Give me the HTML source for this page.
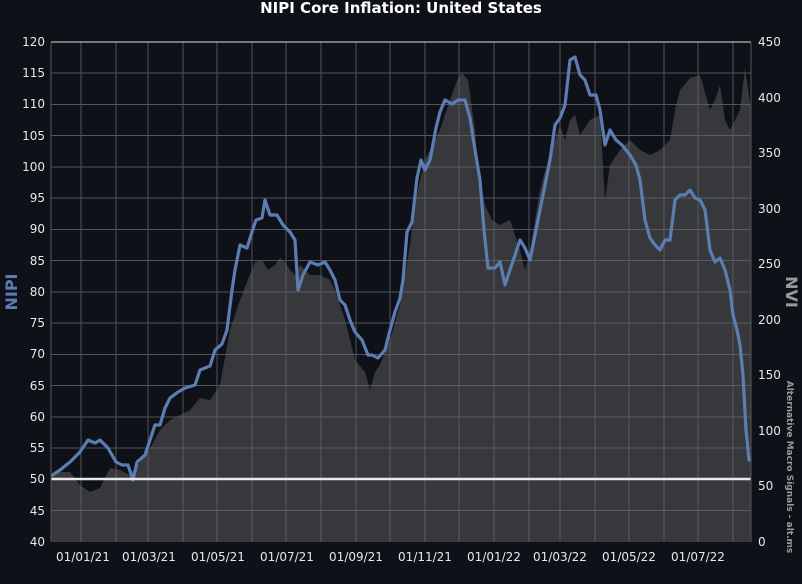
<!DOCTYPE html>
<html><head><meta charset="utf-8"><style>
body{margin:0;background:#0f1119;}
svg{display:block;font-family:"DejaVu Sans","Liberation Sans",sans-serif;}
</style></head><body>
<svg width="802" height="584" viewBox="0 0 802 584">
<rect width="802" height="584" fill="#0f1119"/>
<text x="401" y="13" fill="#fff" font-size="15" font-weight="bold" text-anchor="middle">NIPI Core Inflation: United States</text>
<clipPath id="c"><rect x="51" y="42" width="700" height="500"/></clipPath>
<g clip-path="url(#c)">
<polygon fill="#36383c" points="51,542 51,478 60,472 70,472 80,485 90,492 100,488 110,468 120,470 130,475 140,462 150,448 160,430 170,420 180,415 190,410 200,398 210,400 220,385 230,330 240,300 247,282 255,262 262,260 268,270 275,265 280,258 285,262 290,270 295,275 300,265 305,270 310,275 320,275 330,280 335,290 345,320 355,360 365,372 370,390 375,372 380,365 390,340 400,305 410,245 415,205 420,180 425,160 430,150 440,130 450,100 458,78 462,73 468,80 475,130 478,170 485,205 492,220 500,225 510,220 520,250 525,270 530,250 540,190 548,160 555,140 560,125 565,140 570,120 575,115 580,135 590,120 600,115 605,200 610,165 620,150 630,140 640,150 650,155 660,150 670,140 675,110 680,90 690,78 700,75 710,110 715,100 720,85 725,120 730,130 740,110 745,68 751,110 751,542"/>
<g stroke="#62656b" stroke-width="1" opacity="0.8">
<line x1="51" x2="751" y1="104.5" y2="104.5"/><line x1="51" x2="751" y1="167" y2="167"/><line x1="51" x2="751" y1="229.5" y2="229.5"/><line x1="51" x2="751" y1="292" y2="292"/><line x1="51" x2="751" y1="354.5" y2="354.5"/><line x1="51" x2="751" y1="417" y2="417"/><line x1="51" x2="751" y1="73" y2="73"/><line x1="51" x2="751" y1="135.5" y2="135.5"/><line x1="51" x2="751" y1="198" y2="198"/><line x1="51" x2="751" y1="260.5" y2="260.5"/><line x1="51" x2="751" y1="323" y2="323"/><line x1="51" x2="751" y1="385.5" y2="385.5"/><line x1="51" x2="751" y1="448" y2="448"/><line x1="51" x2="751" y1="510.5" y2="510.5"/>
<line x1="81" x2="81" y1="42" y2="542"/><line x1="116" x2="116" y1="42" y2="542"/><line x1="148" x2="148" y1="42" y2="542"/><line x1="183" x2="183" y1="42" y2="542"/><line x1="217" x2="217" y1="42" y2="542"/><line x1="252" x2="252" y1="42" y2="542"/><line x1="286" x2="286" y1="42" y2="542"/><line x1="321" x2="321" y1="42" y2="542"/><line x1="356" x2="356" y1="42" y2="542"/><line x1="390" x2="390" y1="42" y2="542"/><line x1="425" x2="425" y1="42" y2="542"/><line x1="459" x2="459" y1="42" y2="542"/><line x1="494" x2="494" y1="42" y2="542"/><line x1="529" x2="529" y1="42" y2="542"/><line x1="560" x2="560" y1="42" y2="542"/><line x1="595" x2="595" y1="42" y2="542"/><line x1="629" x2="629" y1="42" y2="542"/><line x1="664" x2="664" y1="42" y2="542"/><line x1="698" x2="698" y1="42" y2="542"/><line x1="733" x2="733" y1="42" y2="542"/>
</g>
<polyline fill="none" stroke="#5b7db1" stroke-width="3.2" stroke-linejoin="round" points="51,476 60,470 70,462 80,452 88,440 95,443 100,440 108,448 116,462 122,465 128,465 133,480 137,462 145,455 150,440 155,425 160,425 165,408 170,398 178,392 185,388 195,385 200,370 210,366 215,350 222,344 227,330 232,290 235,270 240,245 247,248 252,232 256,220 262,218 265,200 270,215 277,215 283,225 290,232 295,240 298,290 303,275 310,262 318,265 325,262 330,270 335,280 340,300 345,305 350,320 355,332 362,340 368,355 372,355 378,358 385,350 390,330 395,312 400,298 403,280 407,232 412,222 417,178 421,160 425,170 430,160 436,128 440,112 445,100 452,104 458,100 465,100 470,118 475,150 480,180 484,230 488,268 495,268 500,262 505,285 510,270 515,255 520,240 525,248 530,260 535,235 540,210 545,185 550,160 555,125 560,118 565,105 570,60 575,57 580,75 585,80 590,95 596,95 600,110 605,145 610,130 616,140 622,145 630,155 636,165 640,180 645,220 650,238 655,245 660,250 665,240 670,240 675,200 680,195 685,195 690,190 695,198 700,200 705,210 710,250 715,262 720,258 725,270 730,290 733,315 737,330 740,345 743,375 746,430 749,460 751,460"/>
<line x1="51" x2="751" y1="479" y2="479" stroke="#e8e8e8" stroke-width="2.5"/>
</g>
<line x1="51" x2="751" y1="42" y2="42" stroke="#ddd" stroke-width="1"/>
<line x1="51" x2="51" y1="42" y2="542" stroke="#555" stroke-width="1"/>
<line x1="751" x2="751" y1="42" y2="542" stroke="#555" stroke-width="1"/>
<g fill="#e8e8e8" font-size="12" text-anchor="end">
<text x="45" y="46">120</text><text x="45" y="77">115</text><text x="45" y="108">110</text><text x="45" y="140">105</text><text x="45" y="171">100</text><text x="45" y="202">95</text><text x="45" y="233">90</text><text x="45" y="265">85</text><text x="45" y="296">80</text><text x="45" y="327">75</text><text x="45" y="358">70</text><text x="45" y="390">65</text><text x="45" y="421">60</text><text x="45" y="452">55</text><text x="45" y="483">50</text><text x="45" y="515">45</text><text x="45" y="546">40</text>
</g>
<g fill="#e8e8e8" font-size="12">
<text x="758" y="46">450</text><text x="758" y="102">400</text><text x="758" y="157">350</text><text x="758" y="213">300</text><text x="758" y="268">250</text><text x="758" y="324">200</text><text x="758" y="379">150</text><text x="758" y="435">100</text><text x="758" y="490">50</text><text x="758" y="546">0</text>
</g>
<g fill="#e8e8e8" font-size="12" text-anchor="middle">
<text x="83" y="561">01/01/21</text><text x="149" y="561">01/03/21</text><text x="218" y="561">01/05/21</text><text x="287" y="561">01/07/21</text><text x="356" y="561">01/09/21</text><text x="425" y="561">01/11/21</text><text x="494" y="561">01/01/22</text><text x="560" y="561">01/03/22</text><text x="629" y="561">01/05/22</text><text x="698" y="561">01/07/22</text>
</g>
<text transform="translate(17,292) rotate(-90)" fill="#5b7db1" font-size="16" font-weight="bold" text-anchor="middle">NIPI</text>
<text transform="translate(786,292) rotate(90)" fill="#9a9a9a" font-size="16" font-weight="bold" text-anchor="middle">NVI</text>
<text transform="translate(787,467) rotate(90)" fill="#9a9a9a" font-size="9" font-weight="bold" text-anchor="middle">Alternative Macro Signals - alt.ms</text>
</svg>
</body></html>
